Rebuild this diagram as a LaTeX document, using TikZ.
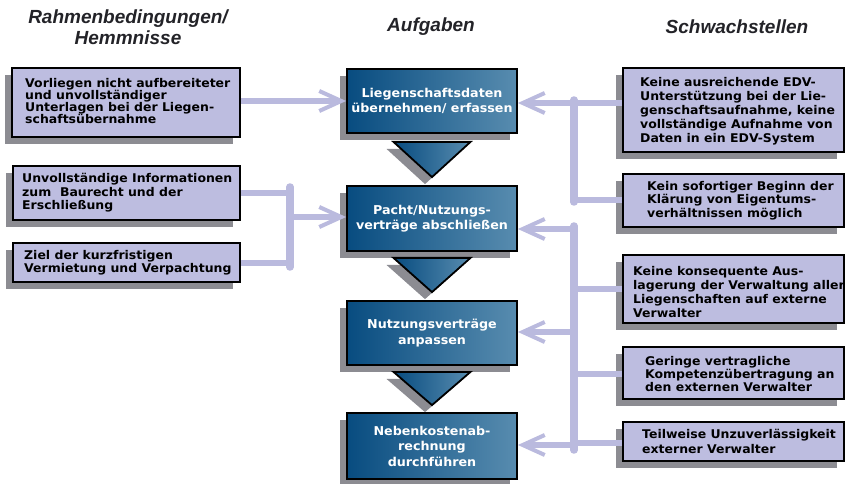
\documentclass[tikz,border=0pt]{standalone}
\usepackage{fontspec}
\setmainfont{DejaVu Sans}
\newfontfamily\boxfont[FakeStretch=1.04]{DejaVu Sans}
\newfontfamily\hdrfont{Liberation Sans}
\usetikzlibrary{arrows.meta,shadows,calc}

\definecolor{lav}{RGB}{189,189,224}
\definecolor{conn}{RGB}{186,186,222}
\definecolor{shad}{RGB}{140,140,146}
\definecolor{bdark}{RGB}{8,76,128}
\definecolor{blight}{RGB}{88,140,175}
\definecolor{hdrc}{RGB}{35,35,40}

\begin{document}
\begin{tikzpicture}[x=1pt,y=-1pt,
  shadowed/.style={drop shadow={shadow xshift=-7pt,shadow yshift=-7pt,fill=shad,opacity=1}},
  sidebox/.style={draw=black,line width=1.8pt,fill=lav,inner sep=0pt,shadowed},
  cbox/.style={draw=black,line width=1.8pt,left color=bdark,right color=blight,inner sep=0pt,
    shadowed,text=white,align=center,font=\boxfont\fontsize{12.2}{15.5}\selectfont\bfseries,
    minimum width=170pt},
  tri/.style={draw=black,line width=1.8pt,left color=bdark,right color=blight,line join=miter,shadowed},
  txt/.style={anchor=west,align=left,inner sep=0pt,text=black,font=\boxfont\fontsize{12}{13.5}\selectfont\bfseries},
  hdr/.style={align=center,inner sep=0pt,text=hdrc,font=\hdrfont\fontsize{19}{21}\selectfont\bfseries\itshape},
  cline/.style={draw=conn,line width=6.5pt},
  arr/.style={-{Straight Barb[length=22pt,width=20pt,line width=4pt]}}
]
\fill[white] (0,0) rectangle (847,484);
\useasboundingbox (0,0) rectangle (847,484);

% headers
\node[hdr] (h1) at (128,27.5) {Rahmenbedingungen/\\Hemmnisse};
\node[hdr] (h2) at (431,27) {Aufgaben};
\node[hdr] (h3) at (737,27) {Schwachstellen};

% left boxes
\node[sidebox,minimum width=228pt,minimum height=69pt] (L1) at (126,102.5) {};
\node[sidebox,minimum width=227pt,minimum height=54pt] (L2) at (126.5,193) {};
\node[sidebox,minimum width=227pt,minimum height=39pt] (L3) at (126.5,262.5) {};
\node[txt,font=\boxfont\fontsize{12}{12.3}\selectfont\bfseries] (L1t) at (25,101) {Vorliegen nicht aufbereiteter\\und unvollständiger\\Unterlagen bei der Liegen-\\schaftsübernahme};
\node[txt] (L2t) at (22,193) {Unvollständige Informationen\\zum\ \ Baurecht und der\\Erschließung};
\node[txt,font=\boxfont\fontsize{12}{13}\selectfont\bfseries] (L3t) at (24,262.5) {Ziel der kurzfristigen\\Vermietung und Verpachtung};

% right boxes
\node[sidebox,minimum width=221pt,minimum height=84pt] (R1) at (733.5,110) {};
\node[sidebox,minimum width=221pt,minimum height=53pt] (R2) at (733.5,200.5) {};
\node[sidebox,minimum width=221pt,minimum height=68pt] (R3) at (733.5,289) {};
\node[sidebox,minimum width=221pt,minimum height=52pt] (R4) at (733.5,373) {};
\node[sidebox,minimum width=221pt,minimum height=39pt] (R5) at (733.5,441.5) {};
\node[txt,font=\boxfont\fontsize{12}{14}\selectfont\bfseries] (R1t) at (640,111) {Keine ausreichende EDV-\\Unterstützung bei der Lie-\\genschaftsaufnahme, keine\\vollständige Aufnahme von\\Daten in ein EDV-System};
\node[txt] (R2t) at (647,200.5) {Kein sofortiger Beginn der\\Klärung von Eigentums-\\verhältnissen möglich};
\node[txt,font=\boxfont\fontsize{12}{13.7}\selectfont\bfseries] (R3t) at (633,292) {Keine konsequente Aus-\\lagerung der Verwaltung aller\\Liegenschaften auf externe\\Verwalter};
\node[txt,font=\boxfont\fontsize{12}{13}\selectfont\bfseries] (R4t) at (645,374) {Geringe vertragliche\\Kompetenzübertragung an\\den externen Verwalter};
\node[txt,font=\boxfont\fontsize{12}{15}\selectfont\bfseries] (R5t) at (642,441.5) {Teilweise Unzuverlässigkeit\\externer Verwalter};

% center boxes
\node[cbox,minimum height=64pt] (C1) at (432,101) {Liegenschaftsdaten\\übernehmen/ erfassen};
\node[cbox,minimum height=65pt] (C2) at (432,218.5) {Pacht/Nutzungs-\\verträge abschließen};
\node[cbox,minimum height=64pt] (C3) at (432,333) {Nutzungsverträge\\anpassen};
\node[cbox,minimum height=66pt] (C4) at (432,446) {Nebenkostenab-\\rechnung\\durchführen};

% triangles between tasks
\path[tri] ($(C1.south)+(-38.5,8)$) -- ($(C1.south)+(38.5,8)$) -- ($(C2.north)+(0,-8)$) -- cycle;
\path[tri] ($(C2.south)+(-38.5,6)$) -- ($(C2.south)+(38.5,6)$) -- ($(C3.north)+(0,-8)$) -- cycle;
\path[tri] ($(C3.south)+(-38.5,6)$) -- ($(C3.south)+(38.5,6)$) -- ($(C4.north)+(0,-7)$) -- cycle;

% junction coordinates
\coordinate (a1) at (0,101);
\coordinate (lb) at (290,217);
\coordinate (rb) at (574,0);

% left connectors
\draw[cline,arr] (L1.east |- a1) -- (C1.west |- a1);
\draw[cline] (L2.east |- 0,193) -- (lb |- 0,193);
\draw[cline] (L3.east |- 0,263) -- (lb |- 0,263);
\draw[cline,line width=7.5pt,line cap=round] (lb |- 0,187) -- (lb |- 0,267);
\draw[cline,arr] (lb) -- (C2.west |- lb);

% right connectors, upper group
\draw[cline,arr] (R1.west |- 0,103) -- (C1.east |- 0,103);
\draw[cline] (R2.west |- 0,200) -- (rb |- 0,200);
\draw[cline,line width=7.5pt,line cap=round] (rb |- 0,100) -- (rb |- 0,202);

% right connectors, lower group
\draw[cline,line width=7.5pt,line cap=round] (rb |- 0,226) -- (rb |- 0,450);
\draw[cline] (R3.west |- 0,289) -- (rb |- 0,289);
\draw[cline] (R4.west |- 0,374) -- (rb |- 0,374);
\draw[cline] (R5.west |- 0,443) -- (rb |- 0,443);
\draw[cline,arr] (rb |- 0,229) -- (C2.east |- 0,229);
\draw[cline,arr] (rb |- 0,332) -- (C3.east |- 0,332);
\draw[cline,arr] (rb |- 0,445) -- (C4.east |- 0,445);
\end{tikzpicture}
\end{document}
